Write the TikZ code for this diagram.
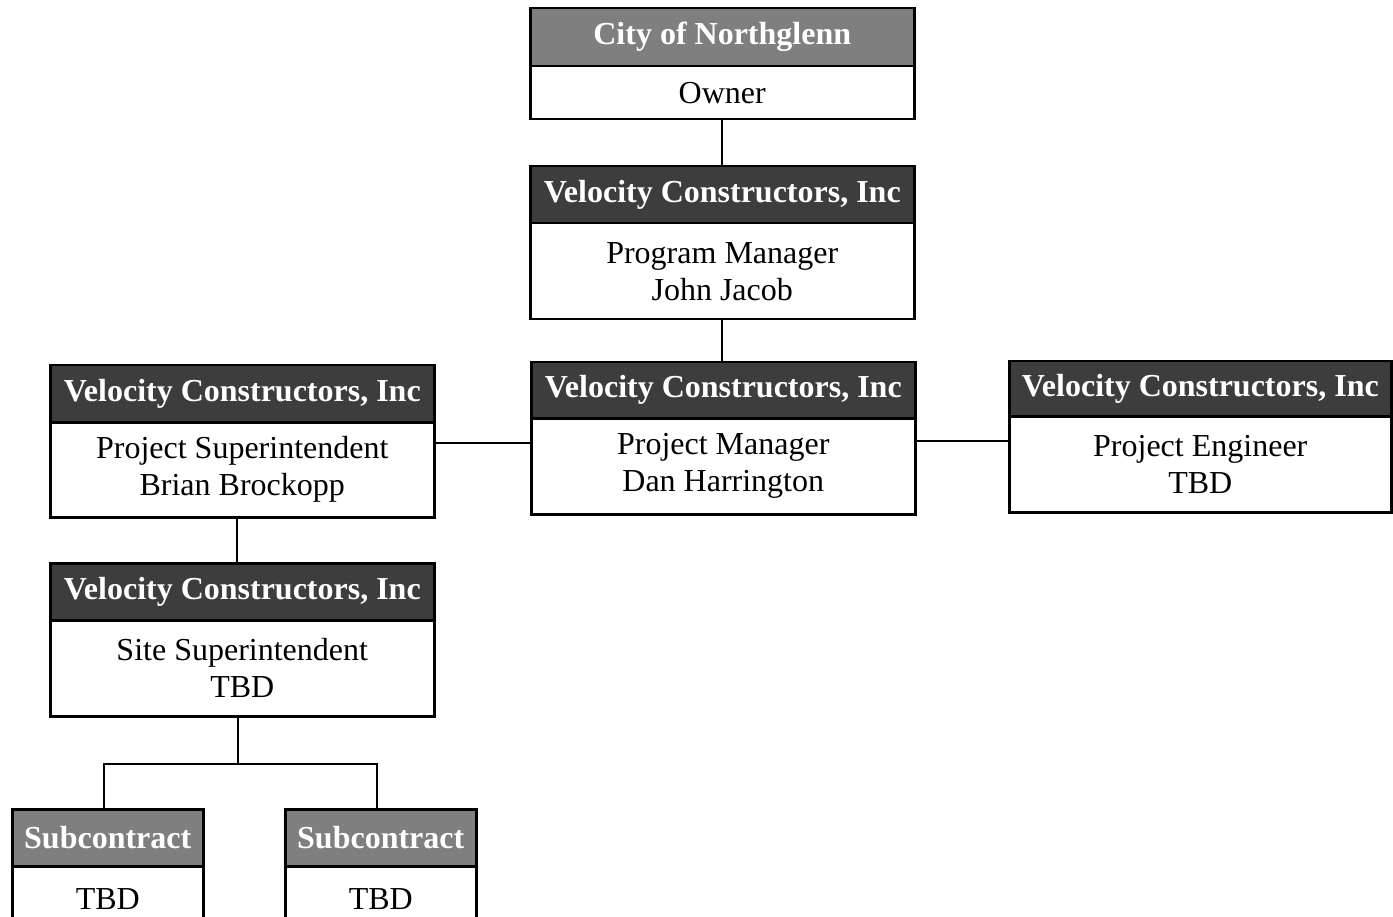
\documentclass[tikz,border=0pt]{standalone}
\usepackage{fontspec}
\setmainfont{Liberation Serif}
\definecolor{hgray}{HTML}{7F7F7F}
\definecolor{hdark}{HTML}{3D3D3D}
\begin{document}
\begin{tikzpicture}[x=1pt,y=-1pt,
  boxbase/.style={draw=black, line width=2.5pt, anchor=north west, inner sep=0pt, align=center},
  hdr/.style={boxbase, font=\fontsize{32}{37}\selectfont\bfseries, text=white},
  lighthdr/.style={hdr, fill=hgray},
  darkhdr/.style={hdr, fill=hdark},
  bdy/.style={boxbase, fill=white, font=\fontsize{32}{37}\selectfont},
  conn/.style={line width=2.3pt}]
\clip (0,0) rectangle (1393,917);
\fill[white] (0,0) rectangle (1393,917);
% City of Northglenn
\node[lighthdr, minimum width=384pt, minimum height=58pt] (h1) at (529,7) {City of Northglenn};
\node[bdy, minimum width=384pt, minimum height=53pt] (b1) at (529,65) {\raisebox{-3pt}{Owner}};
% Program Manager
\node[darkhdr, minimum width=384pt, minimum height=57pt] (h2) at (529,165) {Velocity Constructors, Inc};
\node[bdy, minimum width=384pt, minimum height=96pt] (b2) at (529,222) {Program Manager\\John Jacob};
% Project Manager
\node[darkhdr, minimum width=384pt, minimum height=56pt] (h3) at (530,361) {Velocity Constructors, Inc};
\node[bdy, minimum width=384pt, minimum height=96pt] (b3) at (530,417) {Project Manager\\Dan Harrington};
% Project Superintendent
\node[darkhdr, minimum width=384pt, minimum height=57pt] (h4) at (49,364) {Velocity Constructors, Inc};
\node[bdy, minimum width=384pt, minimum height=95pt] (b4) at (49,421) {Project Superintendent\\Brian Brockopp};
% Project Engineer
\node[darkhdr, minimum width=382pt, minimum height=55pt] (h5) at (1008,360) {Velocity Constructors, Inc};
\node[bdy, minimum width=382pt, minimum height=96pt] (b5) at (1008,415) {Project Engineer\\TBD};
% Site Superintendent
\node[darkhdr, minimum width=384pt, minimum height=57pt] (h6) at (49,562) {Velocity Constructors, Inc};
\node[bdy, minimum width=384pt, minimum height=96pt] (b6) at (49,619) {Site Superintendent\\TBD};
% Subcontracts
\node[lighthdr, minimum width=191pt, minimum height=57pt] (h7) at (11,808) {Subcontract};
\node[bdy, minimum width=191pt, minimum height=66pt] (b7) at (11,865) {TBD};
\node[lighthdr, minimum width=191pt, minimum height=57pt] (h8) at (284,808) {Subcontract};
\node[bdy, minimum width=191pt, minimum height=66pt] (b8) at (284,865) {TBD};
% connectors
\coordinate (jl) at (481,443);
\coordinate (jr) at (961,441);
\coordinate (vs) at (237,540);
\coordinate (fork) at (238,764);
\coordinate (sl) at (104,790);
\coordinate (sr) at (377,790);
\draw[conn] (b1.south) -- (b1.south |- h2.north);
\draw[conn] (b2.south) -- (b2.south |- h3.north);
\draw[conn] (b4.east |- jl) -- (b3.west |- jl);
\draw[conn] (b3.east |- jr) -- (b5.west |- jr);
\draw[conn] (vs |- b4.south) -- (vs |- h6.north);
\draw[conn] (fork |- b6.south) -- (fork);
\draw[conn] (sl |- h7.north) |- (fork) -| (sr |- h8.north);
\end{tikzpicture}
\end{document}
